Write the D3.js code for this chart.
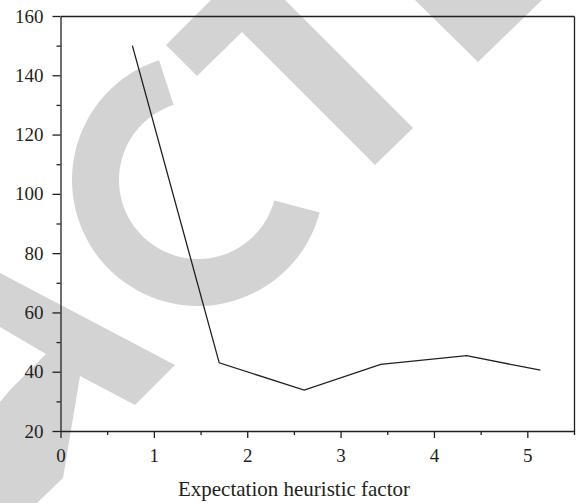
<!DOCTYPE html>
<html>
<head>
    <script src="https://cdnjs.cloudflare.com/ajax/libs/d3/7.8.5/d3.min.js"></script>
    <style>
        body, html {
            margin: 0;
            padding: 0;
            width: 100%;
            height: 100%;
            overflow: hidden;
            background: #fff;
        }
        svg {
            display: block;
        }
        .axis text {
            font-family: "Liberation Serif", "DejaVu Serif", serif;
            font-size: 19px;
            fill: #231f20;
        }
        .axis path, .axis line {
            stroke: #231f20;
            stroke-width: 1.3px;
        }
        .axis-title {
            font-family: "Liberation Serif", "DejaVu Serif", serif;
            font-size: 21px;
            fill: #231f20;
        }
    </style>
</head>
<body>
    <svg></svg>
    <script>
        // values
        const factor = [0.77, 1.70, 2.61, 3.43, 4.35, 5.14];
        const cost = [150, 43, 33.8, 42.5, 45.4, 40.5];
        const xTicks = [0, 1, 2, 3, 4, 5];
        const xMinor = [0.5, 1.5, 2.5, 3.5, 4.5, 5.5];
        const yTicks = [20, 40, 60, 80, 100, 120, 140, 160];
        const yMinor = [30, 50, 70, 90, 110, 130, 150];
        const xTitle = "Expectation heuristic factor";

        const width = 577;
        const height = 503;
        const m = { left: 60.5, right: 574, top: 16, bottom: 431 };

        const svg = d3.select("svg")
            .attr("width", width)
            .attr("height", height);

        // grey watermark behind the chart
        const wm = svg.append("g").attr("fill", "#d3d3d3");
        wm.append("polygon")
            .attr("points", "211,0 285,0 413,128 375,165 242,32 197,76 166,45");
        wm.append("polygon")
            .attr("points", "415,0 542,0 478,62");
        wm.append("path")
            .attr("transform", "translate(198,180)")
            .attr("d", d3.arc()
                .innerRadius(79)
                .outerRadius(126)
                .startAngle(105 * Math.PI / 180)
                .endAngle(342 * Math.PI / 180)());
        wm.append("polygon")
            .attr("points", "0,273 175,365 135,405 80,376 63,478 37,503 0,503 0,402 10,390 46,354 0,327");

        const x = d3.scaleLinear().domain([0, 5.5]).range([m.left, m.right]);
        const y = d3.scaleLinear().domain([20, 160]).range([m.bottom, m.top]);

        // frame top and right
        svg.append("g").attr("class", "axis")
            .attr("transform", `translate(0,${m.top})`)
            .call(d3.axisTop(x).tickValues([]).tickSizeOuter(0));
        svg.append("g").attr("class", "axis")
            .attr("transform", `translate(${m.right},0)`)
            .call(d3.axisRight(y).tickValues([]).tickSizeOuter(0));

        // minor ticks
        svg.append("g").attr("class", "axis")
            .attr("transform", `translate(0,${m.bottom})`)
            .call(d3.axisBottom(x).tickValues(xMinor).tickSize(4).tickFormat(""))
            .call(g => g.select(".domain").remove());
        svg.append("g").attr("class", "axis")
            .attr("transform", `translate(${m.left},0)`)
            .call(d3.axisLeft(y).tickValues(yMinor).tickSize(4).tickFormat(""))
            .call(g => g.select(".domain").remove());

        // major axes
        svg.append("g").attr("class", "axis")
            .attr("transform", `translate(0,${m.bottom})`)
            .call(d3.axisBottom(x).tickValues(xTicks).tickFormat(d3.format("d"))
                .tickSize(7).tickSizeOuter(0).tickPadding(6))
            .call(g => g.selectAll("text").attr("dy", "0.95em"));
        svg.append("g").attr("class", "axis")
            .attr("transform", `translate(${m.left},0)`)
            .call(d3.axisLeft(y).tickValues(yTicks).tickSize(8).tickSizeOuter(0).tickPadding(9));

        svg.append("text")
            .attr("class", "axis-title")
            .attr("x", 294)
            .attr("y", 496)
            .attr("text-anchor", "middle")
            .text(xTitle);

        const line = d3.line()
            .x((d, i) => x(factor[i]))
            .y(d => y(d));

        svg.append("path")
            .datum(cost)
            .attr("fill", "none")
            .attr("stroke", "#231f20")
            .attr("stroke-width", 1.3)
            .attr("d", line);
    </script>
</body>
</html>
